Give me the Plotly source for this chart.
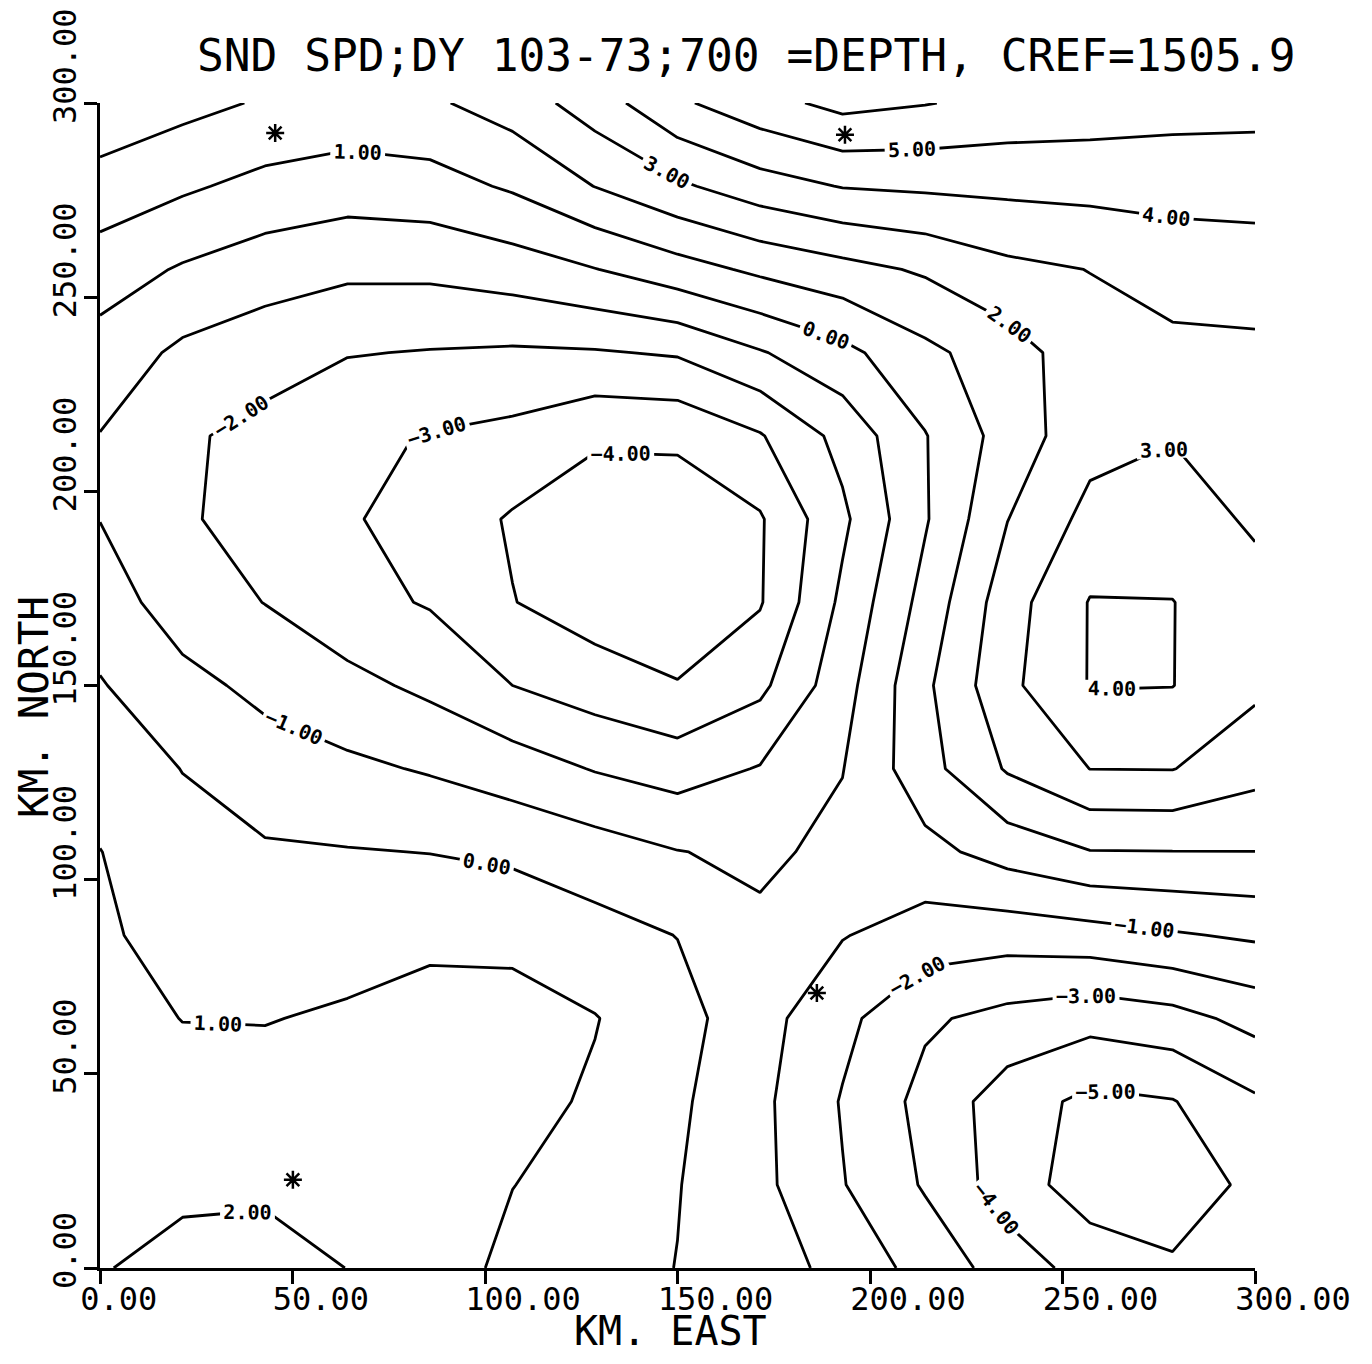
import plotly.graph_objects as go

# ---------------- data ----------------
# grid node coordinates (km), 15 x 15 grid
x_km = [0.0, 21.43, 42.86, 64.29, 85.71, 107.14, 128.57, 150.0,
        171.43, 192.86, 214.29, 235.71, 257.14, 278.57, 300.0]
y_km = [0.0, 21.43, 42.86, 64.29, 85.71, 107.14, 128.57, 150.0,
        171.43, 192.86, 214.29, 235.71, 257.14, 278.57, 300.0]

# sound-speed anomaly (m/s relative to CREF), one row per northing, south -> north
row_y000 = [1.95, 2.25, 2.30, 1.99, 1.65, 0.68, 0.40, -0.02, -0.45, -1.35, -2.35, -3.45, -4.41, -4.89, -4.50]
row_y021 = [1.80, 1.84, 1.87, 1.69, 1.55, 1.02, 0.55, 0.04, -0.75, -1.95, -3.10, -4.50, -5.50, -5.45, -4.81]
row_y043 = [1.60, 1.41, 1.42, 1.39, 1.40, 1.30, 0.88, 0.17, -0.77, -2.07, -3.30, -4.50, -5.25, -5.05, -4.15]
row_y064 = [1.40, 0.98, 0.96, 1.13, 1.35, 1.30, 1.04, 0.37, -0.64, -1.74, -2.85, -3.31, -3.64, -3.36, -2.67]
row_y086 = [1.14, 0.66, 0.54, 0.59, 0.80, 0.80, 0.35, -0.02, -0.80, -0.95, -1.46, -1.57, -1.40, -1.10, -0.85]
row_y107 = [1.02, 0.33, 0.11, 0.05, -0.02, -0.20, -0.54, -0.97, -1.19, -0.75, -0.30, 0.40, 0.96, 0.98, 0.99]
row_y129 = [0.55, -0.02, -0.53, -0.80, -1.09, -1.50, -2.06, -2.44, -1.94, -1.03, 0.64, 2.10, 3.01, 3.03, 2.35]
row_y150 = [0.07, -0.70, -1.26, -1.71, -2.22, -3.00, -3.51, -3.96, -3.23, -1.40, 0.80, 2.76, 4.05, 4.02, 3.20]
row_y171 = [-0.50, -1.50, -2.02, -2.68, -3.08, -3.97, -4.50, -4.50, -4.08, -1.79, 0.34, 2.57, 4.05, 4.02, 3.40]
row_y193 = [-1.02, -1.89, -2.35, -2.90, -3.40, -4.10, -4.60, -4.60, -4.10, -2.20, -0.10, 1.98, 3.30, 3.50, 2.85]
row_y214 = [-1.03, -1.85, -2.30, -2.80, -3.05, -3.27, -3.85, -3.82, -3.08, -1.68, -0.05, 1.43, 2.65, 2.95, 2.60]
row_y236 = [-0.40, -1.20, -1.58, -1.95, -2.05, -2.13, -2.08, -1.90, -1.08, -0.28, 0.76, 1.55, 2.60, 2.75, 2.80]
row_y257 = [0.49, -0.10, -0.54, -0.80, -0.78, -0.50, -0.03, 0.59, 1.20, 1.67, 2.13, 2.76, 3.02, 3.43, 3.51]
row_y279 = [1.62, 1.15, 0.71, 0.47, 0.60, 1.13, 2.02, 2.83, 3.56, 4.05, 4.16, 4.24, 4.31, 4.35, 4.39]
row_y300 = [2.70, 2.30, 1.90, 1.70, 1.85, 2.45, 3.50, 4.83, 5.64, 6.30, 6.05, 5.70, 5.55, 5.40, 5.33]

# contour levels
level_start = -5
level_end = 6
level_step = 1

# label-point markers (asterisks) drawn by the original plotter
star_x = [45.5, 193.5, 186.2, 50.1]
star_y = [292.3, 291.8, 70.8, 22.7]

# axes ticks
tick_vals = [0, 50, 100, 150, 200, 250, 300]
tick_text = ["0.00", "50.00", "100.00", "150.00", "200.00", "250.00", "300.00"]

title_text = "SND SPD;DY 103-73;700 =DEPTH, CREF=1505.9"
x_title = "KM. EAST"
y_title = "KM. NORTH"

# ---------------- figure ----------------
FONT = "DejaVu Sans Mono"
NBSP = "\u00a0"

z = [row_y000, row_y021, row_y043, row_y064, row_y086, row_y107, row_y129,
     row_y150, row_y171, row_y193, row_y214, row_y236, row_y257, row_y279, row_y300]


def pad(s, n=6):
    return s + NBSP * (n - len(s))


fig = go.Figure()
fig.add_trace(go.Contour(
    x=x_km, y=y_km, z=z,
    contours=dict(start=level_start, end=level_end, size=level_step,
                  coloring="lines", showlabels=True,
                  labelfont=dict(family=FONT, size=20, color="black", weight="bold"),
                  labelformat=".2f"),
    line=dict(width=2.8, smoothing=0),
    colorscale=[[0, "black"], [1, "black"]],
    showscale=False,
    hoverinfo="skip",
))
fig.add_trace(go.Scatter(
    x=star_x, y=star_y, mode="markers",
    marker=dict(symbol="asterisk-open", size=15, color="black",
                line=dict(color="black", width=2.5)),
    hoverinfo="skip", showlegend=False,
))

# the page body adds an 8 px offset, so the figure is made 16 px smaller
fig.update_layout(
    width=1356, height=1348,
    margin=dict(l=92, r=109, t=95, b=88, autoexpand=False),
    paper_bgcolor="white", plot_bgcolor="white",
    showlegend=False,
    font=dict(family=FONT, color="black"),
)

axis_common = dict(
    range=[0, 300], tickvals=tick_vals, ticktext=[pad(t) for t in tick_text],
    ticks="outside", ticklen=13, tickwidth=2.5, tickcolor="black",
    showline=True, linecolor="black", linewidth=2.5,
    showgrid=False, zeroline=False, automargin=False,
    tickfont=dict(family=FONT, size=32, color="black"),
)
fig.update_xaxes(**axis_common, ticklabelshift=38, ticklabelstandoff=-12)
fig.update_yaxes(**axis_common, tickangle=-90, ticklabelshift=-32, ticklabelstandoff=-5)

fig.add_annotation(text=title_text, xref="paper", yref="paper",
                   x=0.559, y=1.0412, xanchor="center", yanchor="middle",
                   showarrow=False, font=dict(family=FONT, size=44.5, color="black"))
fig.add_annotation(text=x_title, xref="paper", yref="paper",
                   x=0.494, y=-0.0545, xanchor="center", yanchor="middle",
                   showarrow=False, font=dict(family=FONT, size=40, color="black"))
fig.add_annotation(text=y_title, xref="paper", yref="paper",
                   x=-0.0571, y=0.4815, xanchor="center", yanchor="middle",
                   textangle=-90,
                   showarrow=False, font=dict(family=FONT, size=41, color="black"))

fig.write_html("out.html")
